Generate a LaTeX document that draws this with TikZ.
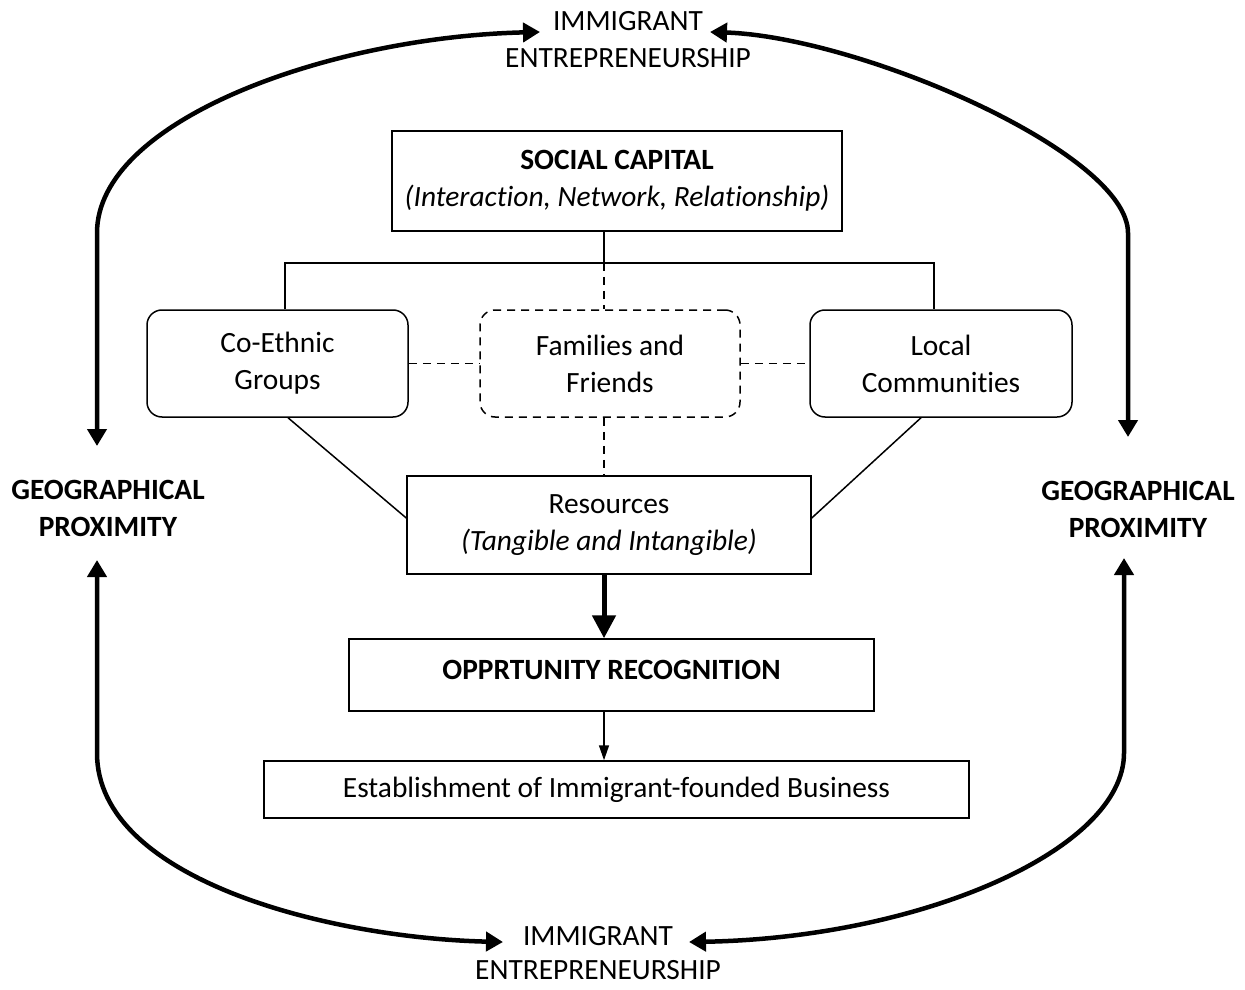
\documentclass[tikz,border=0pt]{standalone}
\usepackage{fontspec}
\setmainfont[Ligatures=NoCommon]{Carlito}
\usetikzlibrary{arrows.meta,calc}
\begin{document}
\begin{tikzpicture}[x=0.5pt,y=-0.5pt,
  every node/.style={font=\fontsize{14.7}{18.5}\selectfont, align=center, inner sep=0pt},
  box/.style={draw, line width=0.75pt},
  rbox/.style={draw, line width=0.75pt, rounded corners=7.5pt},
  thinline/.style={line width=0.75pt},
  dashline/.style={line width=0.75pt, dash pattern=on 4pt off 3pt},
  bigcurve/.style={line width=2.25pt, <->, >={Triangle[length=8.5pt,width=9.5pt]}},
  fatarrow/.style={line width=2.5pt, -{Triangle[length=11.5pt,width=11.5pt]}},
  slimarrow/.style={line width=0.75pt, -{Triangle[length=7.5pt,width=5pt]}}
]
\useasboundingbox[fill=white] (0,0) rectangle (1245,989);

% boxes
\node[box, minimum width=225pt, minimum height=50pt] (sc) at (617,181)
  {\textbf{SOCIAL CAPITAL}\\\textit{(Interaction, Network, Relationship)}};
\node[rbox, minimum width=130.5pt, minimum height=53.5pt] (coeth) at (277.5,363.5)
  {Co-Ethnic\\Groups};
\node[rbox, dash pattern=on 4pt off 3pt, minimum width=130pt, minimum height=53.5pt] (fam) at (610,363.5)
  {Families and\\Friends};
\node[rbox, minimum width=131pt, minimum height=53.5pt] (local) at (941,363.5)
  {Local\\Communities};
\node[box, minimum width=202pt, minimum height=49pt] (res) at (609,525)
  {Resources\\\textit{(Tangible and Intangible)}};
\node[box, minimum width=262.5pt, minimum height=36pt, text height=6pt, text depth=2pt] (opp) at (611.5,675)
  {\textbf{OPPRTUNITY RECOGNITION}};
\node[box, minimum width=352.5pt, minimum height=28.5pt] (est) at (616.5,789.5)
  {Establishment of Immigrant-founded Business};

% outer labels
\node (imtop) at (628,40) {IMMIGRANT\\ENTREPRENEURSHIP};
\node[font=\fontsize{14.7}{17}\selectfont] (imbot) at (598,953) {IMMIGRANT\\ENTREPRENEURSHIP};
\node (geoL) at (108,508.5) {\textbf{GEOGRAPHICAL}\\\textbf{PROXIMITY}};
\node (geoR) at (1138,509) {\textbf{GEOGRAPHICAL}\\\textbf{PROXIMITY}};

% coordinates
\coordinate (cx) at (604,263);
\coordinate (bl) at (285,263);
\coordinate (br) at (934,263);
\coordinate (tTL) at (540,32);
\coordinate (tTR) at (710,32);
\coordinate (tBL) at (503,942);
\coordinate (tBR) at (689,942);
\coordinate (gLt) at (97,446);
\coordinate (gLb) at (97,560);
\coordinate (gRt) at (1128,437);
\coordinate (gRb) at (1124,558);

% inner connectors
\draw[thinline] (cx |- sc.south) -- (cx);
\draw[thinline] (bl |- coeth.north) -- (bl) -- (br) -- (br |- local.north);
\draw[dashline] (cx) -- (cx |- fam.north);
\draw[dashline] (coeth.east) -- (fam.west);
\draw[dashline] (fam.east) -- (local.west);
\draw[dashline] (cx |- fam.south) -- (cx |- res.north);
\draw[thinline] ($(coeth.south)+(10.5,0)$) -- ($(res.west)+(0,-7)$);
\draw[thinline] ($(local.south)+(-20,0)$) -- ($(res.east)+(0,-7)$);
\draw[fatarrow] (cx |- res.south) -- (cx |- opp.north);
\draw[slimarrow] (cx |- opp.south) -- (cx |- est.north);

% outer loops
\draw[bigcurve] (tTL) .. controls (330,37) and (97,120) .. (97,233) -- (gLt);
\draw[bigcurve] (tTR) .. controls (860,37) and (1128,153) .. (1128,233) -- (gRt);
\draw[bigcurve] (gLb) -- (97,753) .. controls (97,880) and (330,938) .. (tBL);
\draw[bigcurve] (gRb) -- (1124,753) .. controls (1124,850) and (920,938) .. (tBR);
\end{tikzpicture}
\end{document}
